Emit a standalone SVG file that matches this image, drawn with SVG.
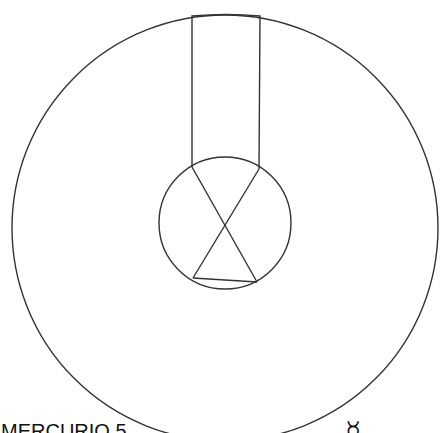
<svg xmlns="http://www.w3.org/2000/svg" width="440" height="433" viewBox="0 0 440 433">
<style>
.ln{fill:none;stroke:#333;stroke-width:1.4}
.lbl{font-family:"Liberation Sans",Arial,sans-serif;fill:#111}
</style>
<rect width="440" height="433" fill="#fff"/>
<g id="outer-circle"><circle class="ln" cx="225" cy="228" r="213"/></g>
<g id="inner-circle"><circle class="ln" cx="225" cy="223" r="66"/></g>
<g id="column"><path class="ln" d="M192,167 L192,16 Q226,13 260,16 L259,169"/></g>
<g id="connectors">
<line class="ln" x1="192" y1="167" x2="257" y2="282"/>
<line class="ln" x1="259" y1="169" x2="193" y2="278"/>
<line class="ln" x1="193" y1="278" x2="257" y2="282" stroke-width="2"/>
</g>
<g id="label"><text class="lbl" x="1" y="438" font-size="20">MERCURIO 5</text></g>
<g id="symbol"><text class="lbl" x="353" y="448" font-size="40" font-weight="bold" text-anchor="middle" font-family="DejaVu Sans,sans-serif">☿</text></g>
</svg>
